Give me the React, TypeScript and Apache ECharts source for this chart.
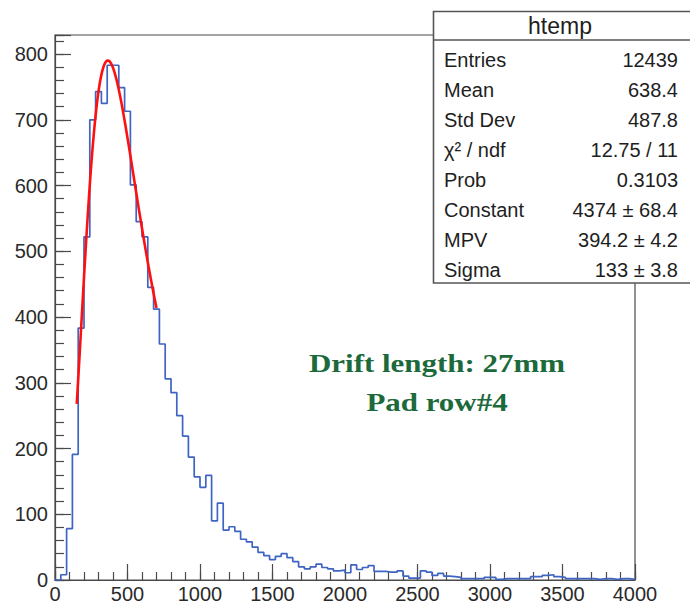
import React, { useEffect, useRef } from "react";
import * as echarts from "echarts";

// Histogram binning (htemp): 100 bins of width 40 between 0 and 4000
const BIN_WIDTH = 40;
const X_MIN = 0;
const X_MAX = 4000;
const Y_MAX = 829;

// Bin contents, bin i covers [40*i, 40*i + 40)
const binCounts = [
  0, 8, 78, 191, 383, 522, 700, 743, 725, 783,
  783, 749, 713, 601, 545, 522, 445, 412, 359, 306,
  285, 250, 219, 187, 157, 141, 159, 90, 117, 76,
  81, 74, 62, 58, 50, 42, 37, 31, 36, 40,
  34, 28, 20, 17, 20, 24, 19, 17, 14, 15,
  11, 23, 16, 19, 22, 13, 13, 12, 12, 14,
  6, 3, 3, 14, 12, 7, 10, 6, 5, 4,
  2, 2, 2, 2, 4, 4, 1, 2, 2, 2,
  2, 2, 5, 5, 7, 8, 5, 4, 2, 2,
  2, 2, 2, 1, 2, 2, 1, 2, 2, 1,
];

// Landau fit parameters and range
const FIT_CONSTANT = 4374;
const FIT_MPV = 394.2;
const FIT_SIGMA = 133;
const FIT_MIN = 150;
const FIT_MAX = 700;
const FIT_STEP = 5;

// Statistics box
const statTitle = "htemp";
const statLabels = ["Entries", "Mean", "Std Dev", "\u03c7\u00b2 / ndf", "Prob", "Constant", "MPV", "Sigma"];
const statValues = [
  "12439",
  "638.4",
  "487.8",
  "12.75 / 11",
  "0.3103",
  `${FIT_CONSTANT} \u00b1 68.4`,
  `${FIT_MPV} \u00b1 4.2`,
  `${FIT_SIGMA} \u00b1 3.8`,
];

const annotationLines = ["Drift length: 27mm", "Pad row#4"];

// Axis ticks
const X_MAJOR = 500;
const X_MINOR = 100;
const Y_MAJOR = 100;
const Y_MINOR = 20;

// Landau density (CERNLIB DENLAN / ROOT TMath::Landau with norm = false)
function denlan(v: number): number {
  const p1 = [0.4259894875, -0.124976255, 0.039842437, -0.006298287635, 0.001511162253];
  const q1 = [1.0, -0.3388260629, 0.09594393323, -0.01608042283, 0.003778942063];
  const p2 = [0.1788541609, 0.1173957403, 0.01488850518, -0.001394989411, 0.0001283617211];
  const q2 = [1.0, 0.7428795082, 0.3153932961, 0.06694219548, 0.008790609714];
  const p3 = [0.1788544503, 0.09359161662, 0.006325387654, 0.00006611667319, -0.000002031049101];
  const q3 = [1.0, 0.6097809921, 0.2560616665, 0.04746722384, 0.006957301675];
  const p4 = [0.9874054407, 118.6723273, 849.279436, -743.7792444, 427.0262186];
  const q4 = [1.0, 106.8615961, 337.6496214, 2016.712389, 1597.063511];
  const a1 = [0.04166666667, -0.01996527778, 0.02709538966];
  const poly = (c: number[], t: number) =>
    c[0] + (c[1] + (c[2] + (c[3] + c[4] * t) * t) * t) * t;
  if (v < -5.5) {
    const u = Math.exp(v + 1);
    if (u < 1e-10) return 0;
    const ue = Math.exp(-1 / u);
    const us = Math.sqrt(u);
    return 0.3989422803 * (ue / us) * (1 + (a1[0] + (a1[1] + a1[2] * u) * u) * u);
  }
  if (v < -1) {
    const u = Math.exp(-v - 1);
    return (Math.exp(-u) * Math.sqrt(u) * poly(p1, v)) / poly(q1, v);
  }
  if (v < 1) return poly(p2, v) / poly(q2, v);
  if (v < 5) return poly(p3, v) / poly(q3, v);
  const u = 1 / v;
  return (u * u * poly(p4, u)) / poly(q4, u);
}

const landauFit = (x: number) => FIT_CONSTANT * denlan((x - FIT_MPV) / FIT_SIGMA);

const LABEL_FONT = "Liberation Sans, Arial, Helvetica, sans-serif";

export default function App() {
  const ref = useRef<HTMLDivElement>(null);

  useEffect(() => {
    if (!ref.current) return;
    const chart = echarts.init(ref.current, undefined, { renderer: "svg" });

    const histData: number[][] = binCounts.map((c, i) => [X_MIN + i * BIN_WIDTH, c]);
    histData.push([X_MAX, binCounts[binCounts.length - 1]]);

    const fitData: number[][] = [];
    for (let x = FIT_MIN; x <= FIT_MAX + 1e-9; x += FIT_STEP) {
      fitData.push([x, landauFit(x)]);
    }

    const boxLeft = 433.5;
    const boxTop = 11.5;
    const rowTop = 59.5;
    const rowStep = 30;

    const statTexts: any[] = [];
    statLabels.forEach((label, i) => {
      statTexts.push({
        type: "text",
        z: 101,
        x: 444,
        y: rowTop + i * rowStep,
        style: {
          text: label,
          fontFamily: LABEL_FONT,
          fontSize: 20,
          fill: "#1e1e1e",
          align: "left",
          verticalAlign: "middle",
        },
      });
      statTexts.push({
        type: "text",
        z: 101,
        x: 678,
        y: rowTop + i * rowStep,
        style: {
          text: statValues[i],
          fontFamily: LABEL_FONT,
          fontSize: 20,
          fill: "#1e1e1e",
          align: "right",
          verticalAlign: "middle",
        },
      });
    });

    const annotation = annotationLines.map((line, i) => ({
      type: "text",
      z: 50,
      x: 437,
      y: 363 + i * 39,
      scaleX: 1.19,
      style: {
        text: line,
        fontFamily: "Liberation Serif, Times New Roman, serif",
        fontWeight: "bold",
        fontSize: 26,
        fill: "#1c6a3b",
        align: "center",
        verticalAlign: "middle",
      },
    }));

    const axisColor = "#4a4a4a";
    const plainNumber = (v: number) => String(v);

    chart.setOption({
      animation: false,
      backgroundColor: "#ffffff",
      grid: {
        left: 55,
        right: 55,
        top: 35,
        bottom: 23.5,
        show: true,
        borderColor: axisColor,
        borderWidth: 1.2,
        backgroundColor: "transparent",
      },
      xAxis: [
        {
          type: "value",
          min: X_MIN,
          max: X_MAX,
          interval: X_MAJOR,
          position: "bottom",
          axisLine: { show: true, lineStyle: { color: axisColor, width: 1.2 } },
          axisTick: { show: true, inside: true, length: 16, lineStyle: { color: axisColor, width: 1.2 } },
          axisLabel: {
            show: true,
            fontFamily: LABEL_FONT,
            fontSize: 20,
            color: "#2a2a2a",
            margin: 4,
            showMinLabel: true,
            showMaxLabel: true,
            formatter: plainNumber,
          },
          splitLine: { show: false },
        },
        {
          type: "value",
          min: X_MIN,
          max: X_MAX,
          interval: X_MINOR,
          position: "bottom",
          axisLine: { show: false },
          axisTick: { show: true, inside: true, length: 8, lineStyle: { color: axisColor, width: 1.2 } },
          axisLabel: { show: false },
          splitLine: { show: false },
        },
      ],
      yAxis: [
        {
          type: "value",
          min: 0,
          max: Y_MAX,
          interval: Y_MAJOR,
          position: "left",
          axisLine: { show: true, lineStyle: { color: axisColor, width: 1.2 } },
          axisTick: { show: true, inside: true, length: 16, lineStyle: { color: axisColor, width: 1.2 } },
          axisLabel: {
            show: true,
            fontFamily: LABEL_FONT,
            fontSize: 20,
            color: "#2a2a2a",
            margin: 7,
            formatter: (v: number) => (v % Y_MAJOR === 0 ? String(v) : ""),
          },
          splitLine: { show: false },
        },
        {
          type: "value",
          min: 0,
          max: Y_MAX,
          interval: Y_MINOR,
          position: "left",
          axisLine: { show: false },
          axisTick: { show: true, inside: true, length: 9, lineStyle: { color: axisColor, width: 1.2 } },
          axisLabel: { show: false },
          splitLine: { show: false },
        },
      ],
      series: [
        {
          name: "htemp",
          type: "line",
          xAxisIndex: 0,
          yAxisIndex: 0,
          step: "end",
          data: histData,
          symbol: "none",
          lineStyle: { color: "#3f65c2", width: 1.7 },
          z: 3,
        },
        {
          name: "landau",
          type: "line",
          xAxisIndex: 0,
          yAxisIndex: 0,
          data: fitData,
          symbol: "none",
          smooth: false,
          lineStyle: { color: "#ff1010", width: 2.6 },
          z: 4,
        },
      ],
      graphic: [
        {
          type: "rect",
          z: 100,
          shape: { x: boxLeft, y: boxTop, width: 300, height: 271.5 },
          style: { fill: "#ffffff", stroke: "#555", lineWidth: 1.6 },
        },
        {
          type: "line",
          z: 101,
          shape: { x1: boxLeft, y1: 40, x2: 700, y2: 40 },
          style: { stroke: "#555", lineWidth: 1.4 },
        },
        {
          type: "text",
          z: 101,
          x: 560,
          y: 25.5,
          style: {
            text: statTitle,
            fontFamily: LABEL_FONT,
            fontSize: 23,
            fill: "#1e1e1e",
            align: "center",
            verticalAlign: "middle",
          },
        },
        ...statTexts,
        ...annotation,
      ],
    });

    return () => chart.dispose();
  }, []);

  return (
    <div
      ref={ref}
      style={{ position: "fixed", left: 0, top: 0, width: 690, height: 604, background: "#fff" }}
    />
  );
}
